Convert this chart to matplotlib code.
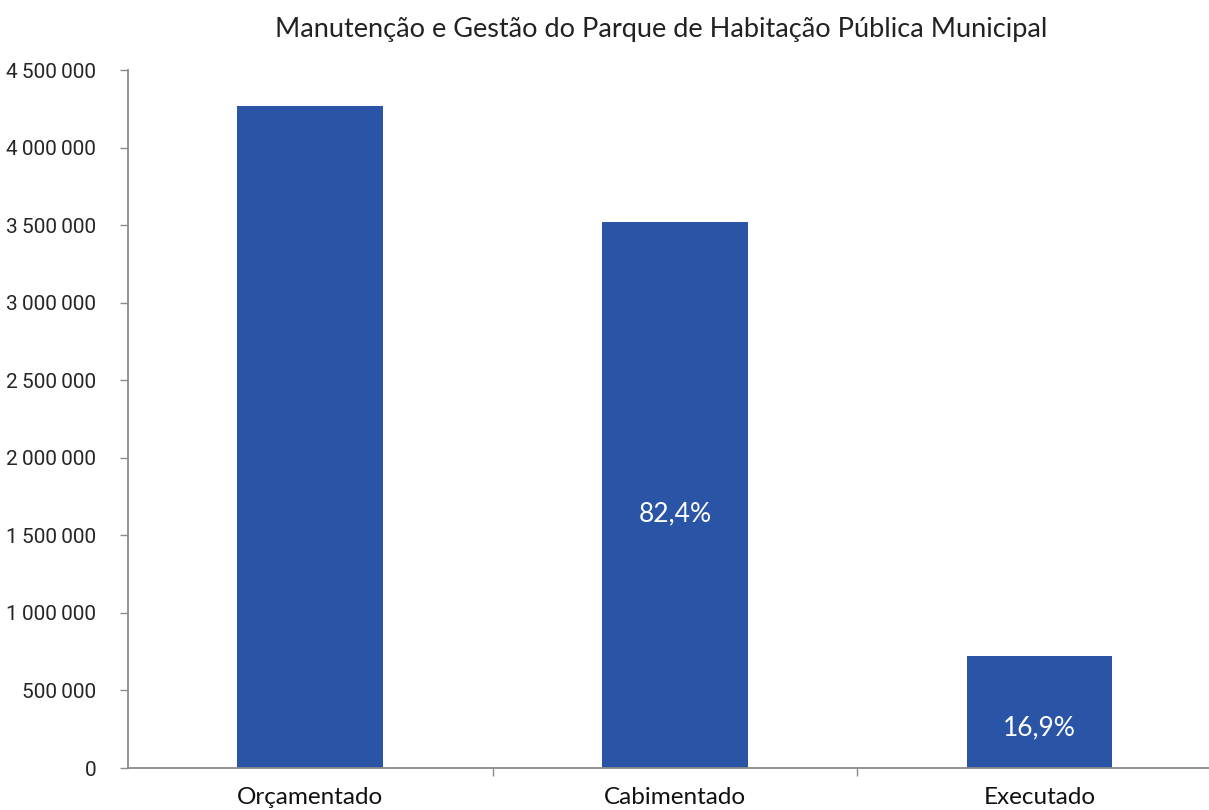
import matplotlib
matplotlib.use("Agg")
import matplotlib.pyplot as plt
import matplotlib.transforms as mtransforms
from matplotlib.ticker import FuncFormatter, FixedLocator

categories = ["Orçamentado", "Cabimentado", "Executado"]
values = [4268000, 3518000, 722000]
pct_labels = ["", "82,4%", "16,9%"]
pct_pos = [0.0, 0.465, 0.357]  # fraction of bar height where the label sits
title = "Manutenção e Gestão do Parque de Habitação Pública Municipal"
yticks = [0, 500000, 1000000, 1500000, 2000000, 2500000, 3000000, 3500000, 4000000, 4500000]

W, H = 1209, 810
fig = plt.figure(figsize=(W / 100, H / 100), dpi=100)
ax = fig.add_axes([128 / W, 1 - 768 / H, (W - 128) / W, (768 - 70) / H])

bar_color = "#2a55a6"
x = list(range(len(categories)))
ax.bar(x, values, width=0.4, color=bar_color, zorder=2)

ax.set_xlim(-0.5, 2.465)
ax.set_ylim(0, 4500000)

ax.yaxis.set_major_locator(FixedLocator(yticks))
ax.yaxis.set_major_formatter(FuncFormatter(lambda v, p: f"{int(v):,}".replace(",", "\u2009")))

for s in ["top", "right"]:
    ax.spines[s].set_visible(False)
for s in ["left", "bottom"]:
    ax.spines[s].set_color("#8a8a8a")
    ax.spines[s].set_linewidth(1.3)

ax.set_xticks([0.5, 1.5])
ax.set_xticklabels([])
ax.tick_params(axis="x", direction="out", length=6, color="#8a8a8a", width=1.0)
ax.tick_params(axis="y", direction="out", length=6, color="#8a8a8a", width=1.0,
               labelsize=15, labelcolor="#262626", pad=17)
for lab in ax.get_yticklabels():
    lab.set_family(["Roboto", "DejaVu Sans"])

xl_trans = mtransforms.blended_transform_factory(ax.transData, fig.transFigure)
for xi, c in zip(x, categories):
    ax.text(xi, 6 / H, c, transform=xl_trans, ha="center", va="baseline",
            fontsize=17.5, family="Lato", color="#111111")

for xi, v, p, f in zip(x, values, pct_labels, pct_pos):
    if p:
        ax.text(xi, v * f, p, ha="center", va="center",
                fontsize=19, family="Lato", color="white")

fig.text(661 / W, 1 - 37 / H, title, ha="center", va="baseline", fontsize=19.5,
         family="Lato", color="#222222")

fig.savefig("out.png", dpi=100)
